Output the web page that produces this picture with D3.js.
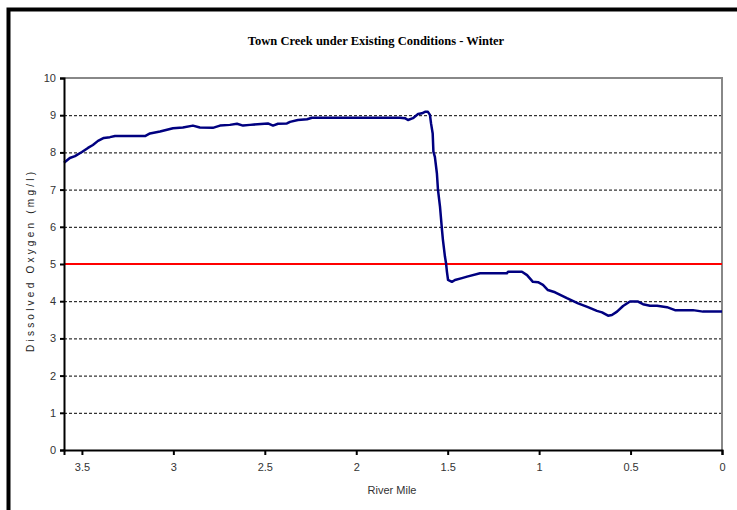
<!DOCTYPE html>
<html>
<head>
<meta charset="utf-8">
<script src="https://cdn.jsdelivr.net/npm/d3@7"></script>
<style>
  body { margin: 0; background: #fff; }
  svg { display: block; }
  .tick text { font-family: Arial, "Liberation Sans", sans-serif; font-size: 11px; fill: #333; }
</style>
</head>
<body>
<div id="chart"></div>
<script>
// data
const riverMile = [3.598, 3.566, 3.538, 3.5, 3.467, 3.44, 3.412, 3.38, 3.347, 3.319, 3.155, 3.128,
  3.073, 3.002, 2.948, 2.893, 2.855, 2.784, 2.745, 2.691, 2.652, 2.619, 2.581, 2.483, 2.455, 2.428,
  2.379, 2.362, 2.319, 2.269, 2.242, 1.761, 1.734, 1.717, 1.69, 1.662, 1.641, 1.624, 1.608, 1.597,
  1.591, 1.582, 1.578, 1.57, 1.559, 1.553, 1.542, 1.531, 1.526, 1.515, 1.509, 1.504, 1.498, 1.477,
  1.46, 1.422, 1.394, 1.323, 1.176, 1.17, 1.094, 1.066, 1.034, 1.006, 0.979, 0.952, 0.913, 0.848,
  0.787, 0.733, 0.684, 0.656, 0.623, 0.602, 0.574, 0.541, 0.503, 0.459, 0.432, 0.394, 0.355, 0.301,
  0.257, 0.159, 0.104, 0]
const dissolvedOxygen = [7.72, 7.85, 7.9, 8.01, 8.12, 8.2, 8.31, 8.39, 8.41, 8.44, 8.44, 8.51,
  8.56, 8.65, 8.67, 8.72, 8.67, 8.66, 8.72, 8.74, 8.77, 8.72, 8.74, 8.78, 8.72, 8.77,
  8.78, 8.82, 8.87, 8.89, 8.93, 8.93, 8.92, 8.87, 8.92, 9.03, 9.05, 9.09, 9.09, 9.01,
  8.78, 8.51, 8.02, 7.88, 7.44, 6.99, 6.54, 5.91, 5.65, 5.2, 5.02, 4.79, 4.57, 4.52,
  4.57, 4.62, 4.66, 4.75, 4.75, 4.79, 4.79, 4.7, 4.52, 4.51, 4.44, 4.3, 4.24, 4.08,
  3.94, 3.84, 3.74, 3.7, 3.61, 3.63, 3.72, 3.87, 3.99, 3.99, 3.92, 3.88, 3.88, 3.84,
  3.76, 3.76, 3.72, 3.72]
const standard = [5]
const xTicks = [3.5, 3, 2.5, 2, 1.5, 1, 0.5, 0]
const yTicks = [0, 1, 2, 3, 4, 5, 6, 7, 8, 9, 10]

const width = 737
const height = 510
const margin = { top: 78, right: 15, bottom: 60, left: 64 }

const svg = d3.select('#chart').append('svg')
  .attr('width', width)
  .attr('height', height)

// outer frame (top + left)
svg.append('path')
  .attr('d', 'M8.5,510 V9.5 H737')
  .attr('fill', 'none')
  .attr('stroke', '#000')
  .attr('stroke-width', 4)

const x = d3.scaleLinear()
  .domain([3.598, 0])
  .range([margin.left, width - margin.right])
const y = d3.scaleLinear()
  .domain([0, 10])
  .range([height - margin.bottom, margin.top])

// dashed gridlines
svg.append('g')
  .selectAll('line')
  .data(yTicks.filter(d => d > 0 && d < 10))
  .enter()
  .append('line')
  .attr('x1', x.range()[0])
  .attr('x2', x.range()[1])
  .attr('y1', d => y(d) + 0.5)
  .attr('y2', d => y(d) + 0.5)
  .attr('stroke', '#000')
  .attr('stroke-width', 1)
  .attr('stroke-dasharray', '3,2')

// grey plot border top and right
svg.append('path')
  .attr('d', 'M' + x.range()[0] + ',' + y(10) + ' H' + x.range()[1] + ' V' + y(0))
  .attr('fill', 'none')
  .attr('stroke', '#888')
  .attr('stroke-width', 2)

// standard line
svg.append('g')
  .selectAll('line')
  .data(standard)
  .enter()
  .append('line')
  .attr('x1', x.range()[0])
  .attr('x2', x.range()[1])
  .attr('y1', d => y(d))
  .attr('y2', d => y(d))
  .attr('stroke', '#ff0000')
  .attr('stroke-width', 2)

// DO line
const line = d3.line()
  .x(d => x(d[0]))
  .y(d => y(d[1]))
svg.append('path')
  .datum(riverMile.map((m, i) => [m, dissolvedOxygen[i]]))
  .attr('d', line)
  .attr('fill', 'none')
  .attr('stroke', '#000080')
  .attr('stroke-width', 2.5)
  .attr('stroke-linejoin', 'round')

// axes
const xAxis = svg.append('g')
  .attr('transform', 'translate(0,' + y(0) + ')')
  .call(d3.axisBottom(x).tickValues(xTicks).tickSize(5).tickPadding(8).tickFormat(d3.format('')))
xAxis.select('.domain').attr('stroke-width', 2)
xAxis.selectAll('.tick line').attr('stroke-width', 2)

const yAxis = svg.append('g')
  .attr('transform', 'translate(' + margin.left + ',0)')
  .call(d3.axisLeft(y).tickValues(yTicks).tickSize(4).tickPadding(4).tickFormat(d3.format('d')))
yAxis.select('.domain').attr('stroke-width', 2)
yAxis.selectAll('.tick line').attr('stroke-width', 2)

// title
svg.append('text')
  .attr('x', 376)
  .attr('y', 45)
  .attr('text-anchor', 'middle')
  .attr('font-family', '"Liberation Serif", "Times New Roman", serif')
  .attr('font-weight', 'bold')
  .attr('font-size', 12.5)
  .text('Town Creek under Existing Conditions - Winter')

// x label
svg.append('text')
  .attr('x', 392)
  .attr('y', 494)
  .attr('text-anchor', 'middle')
  .attr('font-family', 'Arial, "Liberation Sans", sans-serif')
  .attr('font-size', 11)
  .attr('fill', '#333')
  .text('River Mile')

// y label
svg.append('text')
  .attr('transform', 'translate(34,262) rotate(-90)')
  .attr('text-anchor', 'middle')
  .attr('font-family', 'Arial, "Liberation Sans", sans-serif')
  .attr('font-size', 10)
  .attr('fill', '#222')
  .attr('textLength', 180)
  .attr('lengthAdjust', 'spacing')
  .text('Dissolved Oxygen (mg/l)')
</script>
</body>
</html>
